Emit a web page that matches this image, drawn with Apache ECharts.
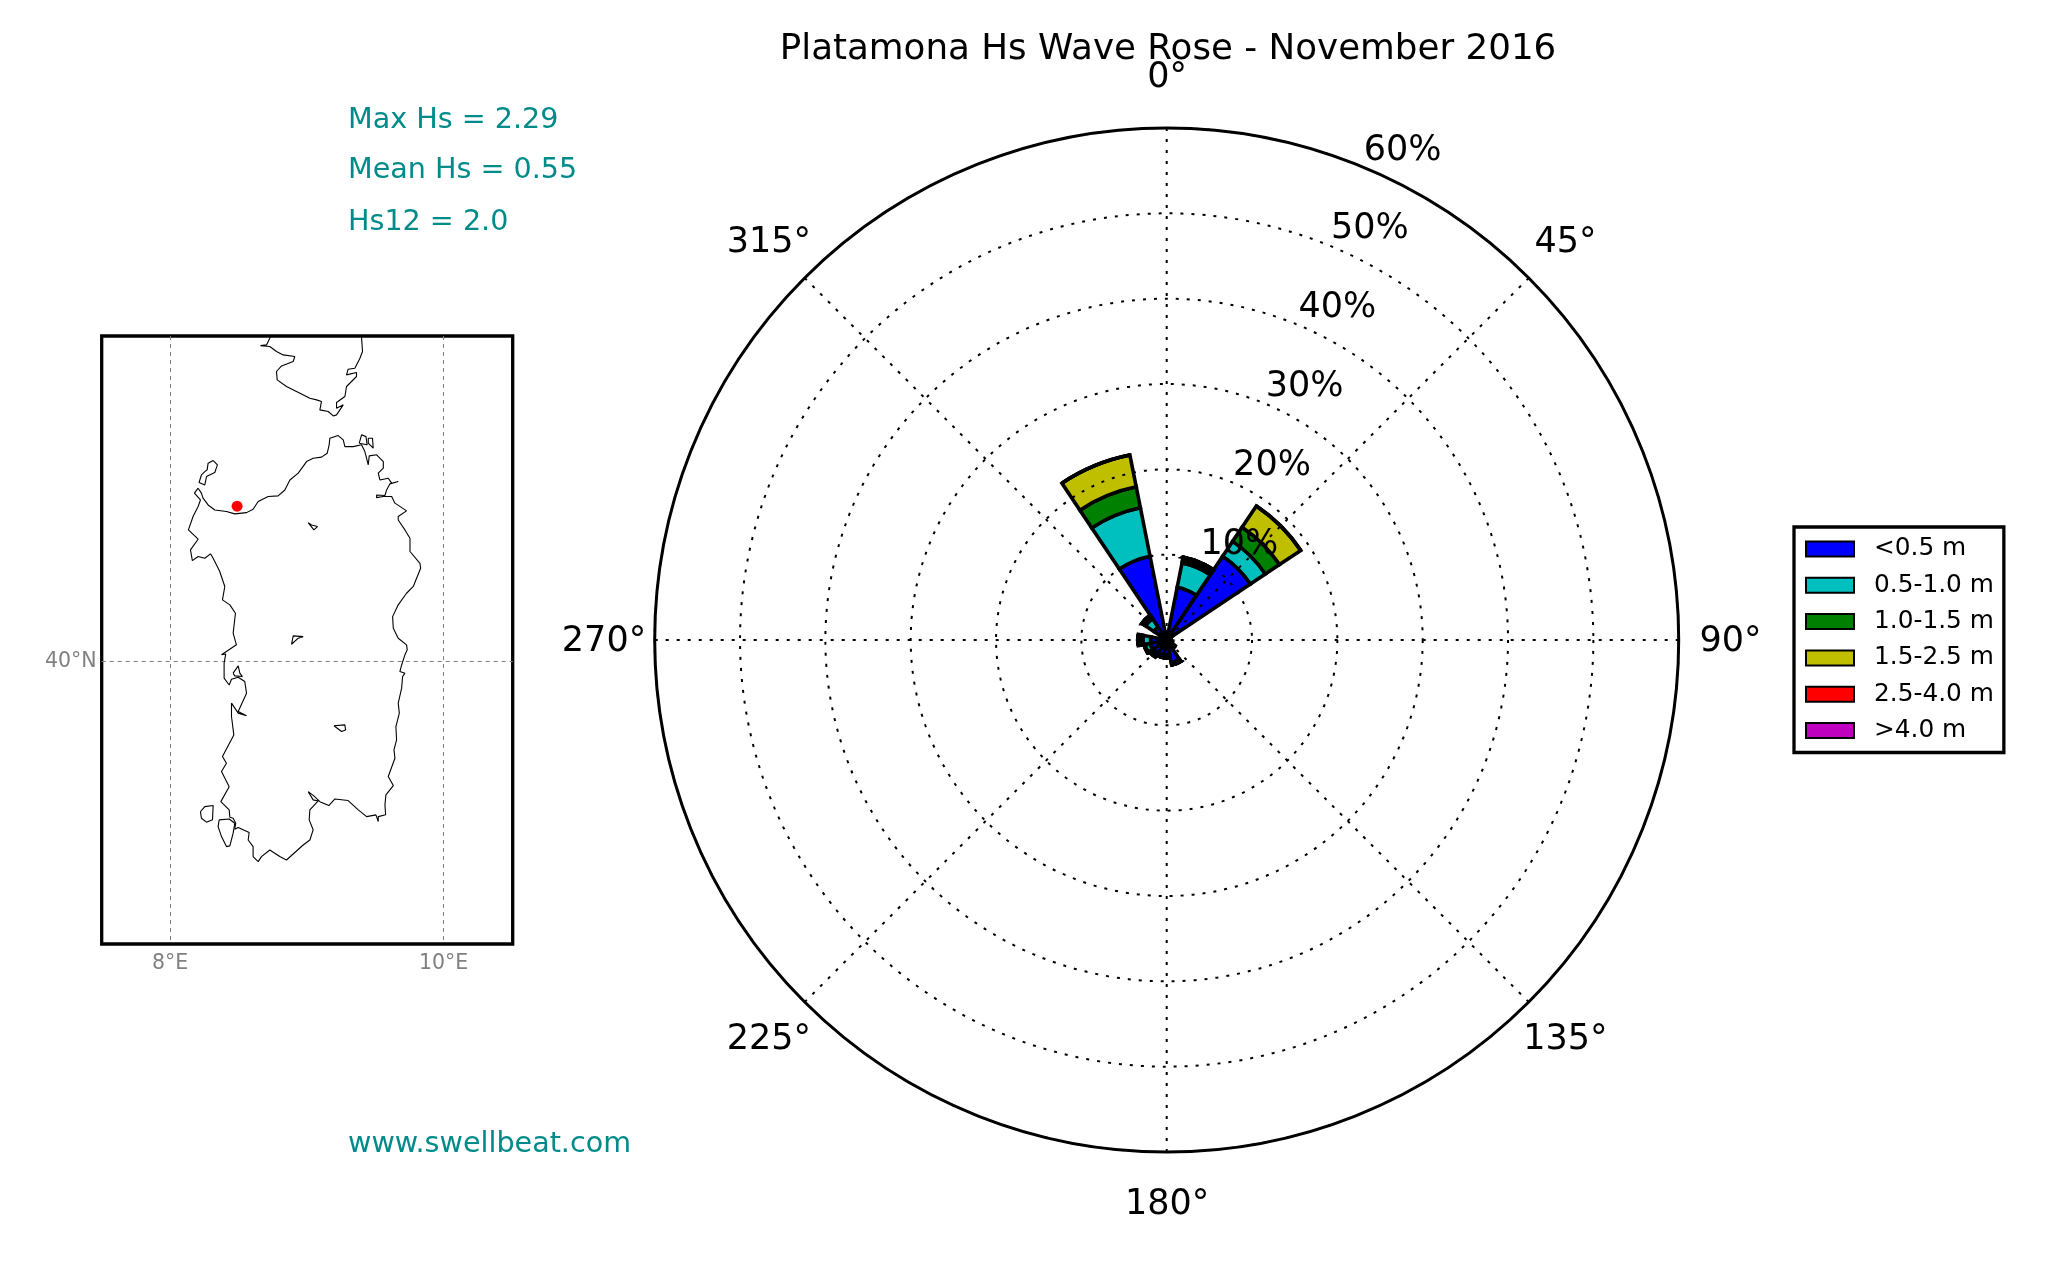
<!DOCTYPE html>
<html><head><meta charset="utf-8">
<style>html,body{margin:0;padding:0;background:#fff}#c{width:2048px;height:1280px}</style>
<script src="https://cdn.jsdelivr.net/npm/echarts@6/dist/echarts.min.js"></script>
</head><body><div id="c"></div>
<script>
const titleText = 'Platamona Hs Wave Rose - November 2016';
const infoLines = ['Max Hs = 2.29', 'Mean Hs = 0.55', 'Hs12 = 2.0'];
const siteText = 'www.swellbeat.com';

const directions = ['0','22.5','45','67.5','90','112.5','135','157.5','180','202.5','225','247.5','270','292.5','315','337.5'];
const binNames = ['<0.5 m','0.5-1.0 m','1.0-1.5 m','1.5-2.5 m','2.5-4.0 m','>4.0 m'];
const binColors = ['#0000ff','#00bfbf','#008000','#bfbf00','#ff0000','#bf00bf'];
const hsBelow05 = [0.7,6.3,11.8,0.5,0.4,0.7,1.0,2.7,1.7,1.8,1.9,2.0,1.9,0.6,1.8,10.0];
const hs05to10  = [0.2,2.9,2.1,0,0,0,0.2,0.3,0.4,0.3,0.4,0.6,0.9,0.2,1.2,5.8];
const hs10to15  = [0,0.35,2.0,0,0,0,0,0,0,0,0.1,0.1,0.3,0,0.3,2.5];
const hs15to25  = [0,0.35,3.0,0,0,0,0,0,0,0,0,0,0.3,0,0.2,3.8];
const hs25to40  = [0,0,0,0,0,0,0,0,0,0,0,0,0,0,0,0];
const hsAbove40 = [0,0,0,0,0,0,0,0,0,0,0,0,0,0,0,0];
const radialTicks = [10,20,30,40,50,60];
const radialLabelAngle = 22.5;
const angleTicks = [0,45,90,135,180,225,270,315];
const angleLabelRadius = 66;

const sitePoint = [8.49, 40.869];
const lonTicks = [8, 10];
const latTicks = [40];

const sardinia = [[8.205,40.970],[8.229,40.942],[8.241,40.914],[8.278,40.876],[8.327,40.848],[8.412,40.839],[8.473,40.826],[8.559,40.833],[8.607,40.852],[8.644,40.895],[8.717,40.923],[8.790,40.927],[8.839,40.960],[8.876,41.016],[8.937,41.054],[8.998,41.119],[9.046,41.138],[9.107,41.144],[9.149,41.166],[9.163,41.213],[9.168,41.250],[9.229,41.265],[9.266,41.241],[9.278,41.203],[9.339,41.203],[9.400,41.213],[9.424,41.175],[9.449,41.101],[9.456,41.151],[9.510,41.157],[9.559,41.119],[9.559,41.082],[9.522,41.054],[9.534,41.016],[9.595,41.026],[9.620,40.998],[9.668,41.007],[9.607,40.994],[9.583,40.960],[9.571,40.929],[9.510,40.932],[9.510,40.917],[9.559,40.923],[9.620,40.923],[9.644,40.886],[9.729,40.843],[9.668,40.811],[9.668,40.792],[9.717,40.736],[9.754,40.689],[9.754,40.615],[9.827,40.549],[9.832,40.521],[9.778,40.419],[9.729,40.381],[9.668,40.316],[9.627,40.250],[9.632,40.185],[9.668,40.129],[9.729,40.092],[9.734,40.064],[9.717,40.036],[9.693,39.979],[9.680,39.942],[9.717,39.933],[9.700,39.914],[9.693,39.849],[9.668,39.765],[9.676,39.709],[9.651,39.634],[9.656,39.559],[9.637,39.503],[9.644,39.456],[9.595,39.354],[9.632,39.303],[9.578,39.251],[9.571,39.195],[9.576,39.139],[9.522,39.129],[9.522,39.101],[9.505,39.139],[9.437,39.129],[9.376,39.167],[9.302,39.219],[9.205,39.228],[9.161,39.191],[9.095,39.213],[9.051,39.245],[9.010,39.269],[9.046,39.223],[9.083,39.217],[9.022,39.167],[9.017,39.111],[9.046,39.055],[9.022,38.998],[8.973,38.970],[8.851,38.886],[8.802,38.905],[8.729,38.942],[8.668,38.905],[8.644,38.877],[8.607,38.905],[8.607,38.961],[8.571,38.998],[8.578,39.040],[8.498,39.068],[8.473,39.058],[8.480,39.092],[8.461,39.120],[8.437,39.126],[8.432,39.167],[8.371,39.213],[8.432,39.297],[8.376,39.382],[8.412,39.428],[8.383,39.466],[8.466,39.587],[8.449,39.690],[8.449,39.765],[8.498,39.709],[8.559,39.694],[8.498,39.718],[8.559,39.821],[8.546,39.886],[8.498,39.910],[8.449,39.899],[8.432,39.867],[8.395,39.905],[8.395,39.989],[8.407,40.041],[8.376,40.036],[8.485,40.092],[8.461,40.157],[8.478,40.269],[8.437,40.316],[8.383,40.344],[8.400,40.419],[8.363,40.503],[8.315,40.577],[8.295,40.602],[8.254,40.577],[8.205,40.587],[8.163,40.564],[8.149,40.624],[8.205,40.684],[8.134,40.736],[8.168,40.811],[8.205,40.867],[8.222,40.904],[8.178,40.942],[8.205,40.970]];
const asinara = [[8.254,41.063],[8.229,41.044],[8.212,41.002],[8.254,40.988],[8.266,41.035],[8.327,41.058],[8.346,41.101],[8.315,41.125],[8.278,41.110],[8.271,41.073],[8.254,41.063]];
const maddalena = [[9.383,41.222],[9.400,41.269],[9.432,41.259],[9.441,41.213],[9.383,41.222]];
const caprera = [[9.449,41.250],[9.480,41.250],[9.485,41.194],[9.449,41.222],[9.449,41.250]];
const coghinas = [[9.010,40.777],[9.051,40.736],[9.078,40.755],[9.034,40.764],[9.010,40.777]];
const omodeo = [[8.888,40.095],[8.900,40.142],[8.973,40.138],[8.937,40.129],[8.888,40.095]];
const flumendosa = [[9.198,39.638],[9.278,39.643],[9.283,39.615],[9.254,39.606],[9.198,39.638]];
const cabras = [[8.461,39.933],[8.498,39.974],[8.510,39.933],[8.529,39.914],[8.473,39.918],[8.461,39.933]];
const sanPietro = [[8.222,39.157],[8.254,39.185],[8.315,39.191],[8.310,39.111],[8.266,39.098],[8.229,39.120],[8.222,39.157]];
const santAntioco = [[8.359,39.111],[8.432,39.116],[8.473,39.092],[8.461,39.036],[8.437,38.965],[8.412,38.961],[8.376,39.017],[8.351,39.073],[8.359,39.111]];
const corsica = [[8.735,41.823],[8.729,41.811],[8.705,41.773],[8.661,41.769],[8.729,41.764],[8.778,41.736],[8.827,41.717],[8.912,41.708],[8.900,41.680],[8.815,41.655],[8.778,41.624],[8.783,41.577],[8.851,41.540],[8.924,41.512],[9.022,41.474],[9.071,41.465],[9.107,41.456],[9.095,41.409],[9.156,41.400],[9.193,41.375],[9.217,41.381],[9.266,41.437],[9.217,41.418],[9.217,41.450],[9.278,41.484],[9.290,41.540],[9.363,41.596],[9.363,41.618],[9.290,41.605],[9.302,41.637],[9.351,41.642],[9.388,41.698],[9.407,41.736],[9.400,41.811],[9.400,41.823]];
const coastParts = [sardinia, asinara, maddalena, caprera, coghinas, omodeo, flumendosa, cabras, sanPietro, santAntioco, corsica];

const FONT = '"DejaVu Sans"';
const binValues = [hsBelow05, hs05to10, hs10to15, hs15to25, hs25to40, hsAbove40];
const dotted = {color:'#000', width:2, type:[3,8]};
const hiddenAxis = {axisLine:{show:false},axisTick:{show:false},axisLabel:{show:false},splitLine:{show:false}};
const polarLabel = {show:true,position:'inside',color:'#000',fontFamily:FONT,fontSize:35,textBorderWidth:0};

const option = {
  animation:false,
  backgroundColor:'#fff',
  textStyle:{fontFamily:FONT},
  title:{text:titleText,left:1163,top:27,textAlign:'center',textStyle:{fontFamily:FONT,fontSize:35.7,fontWeight:'normal',color:'#000'}},
  polar:[
    {center:[1166.7,640],radius:[0,512]},
    {center:[1166.7,640],radius:[0,512]}
  ],
  angleAxis:[
    Object.assign({polarIndex:0,type:'category',data:directions,startAngle:101.25,clockwise:true,boundaryGap:true},hiddenAxis),
    {polarIndex:1,type:'value',min:0,max:360,interval:45,startAngle:90,clockwise:true,z:5,
      axisLine:{show:true,lineStyle:{color:'#000',width:3}},axisTick:{show:false},axisLabel:{show:false},
      splitLine:{show:true,lineStyle:dotted}}
  ],
  radiusAxis:[
    Object.assign({polarIndex:0,type:'value',min:0,max:60},hiddenAxis),
    {polarIndex:1,type:'value',min:0,max:60,interval:10,z:5,axisLine:{show:false},axisTick:{show:false},axisLabel:{show:false},
      splitLine:{show:true,lineStyle:dotted}}
  ],
  grid:{left:101.7,top:336,width:411,height:608,show:true,borderColor:'#000',borderWidth:3.3,backgroundColor:'#fff'},
  xAxis:{type:'value',min:7.5,max:10.505,axisLine:{show:false},axisTick:{show:false,customValues:lonTicks},
    axisLabel:{customValues:lonTicks,margin:9,color:'#808080',fontFamily:FONT,fontSize:20.5,formatter:v=>v+'°E'},
    splitLine:{show:true,lineStyle:{color:'#808080',width:1,type:[4,4]}}},
  yAxis:{type:'value',min:38.415,max:41.823,axisLine:{show:false},axisTick:{show:false,customValues:latTicks},
    axisLabel:{customValues:latTicks,margin:5,color:'#808080',fontFamily:FONT,fontSize:20.5,formatter:v=>v+'°N'},
    splitLine:{show:true,lineStyle:{color:'#808080',width:1,type:[4,4]}}},
  legend:{orient:'vertical',left:1794,top:527,padding:[9.5,10,9.5,11],data:binNames,icon:'rect',itemWidth:48,itemHeight:15,itemGap:11.3,
    backgroundColor:'#fff',borderColor:'#000',borderWidth:3.3,
    textStyle:{fontFamily:FONT,fontSize:24.8,color:'#000',padding:[0,0,0,15]}},
  graphic:[
    ...infoLines.map((t,i)=>({type:'text',x:348,y:[120.5,170.5,222.5][i],style:{text:t,fill:'#008b8b',font:'28.6px '+FONT,textAlign:'left',textVerticalAlign:'middle'}})),
    {type:'text',x:348,y:1144.5,style:{text:siteText,fill:'#008b8b',font:'28.6px '+FONT,textAlign:'left',textVerticalAlign:'middle'}}
  ],
  series:[
    ...binNames.map((n,i)=>({name:n,type:'bar',coordinateSystem:'polar',polarIndex:0,stack:'hs',barWidth:'100%',z:2,
      data:binValues[i],itemStyle:{color:binColors[i],borderColor:'#000',borderWidth:3.6}})),
    {type:'scatter',coordinateSystem:'polar',polarIndex:1,symbolSize:0,z:6,silent:true,clip:false,
      itemStyle:{color:'#000',opacity:1},
      data:radialTicks.map(r=>[r,radialLabelAngle]),
      label:Object.assign({},polarLabel,{offset:[40,-16.5],formatter:p=>p.value[0]+'%'})},
    {type:'scatter',coordinateSystem:'polar',polarIndex:1,symbolSize:0,z:6,silent:true,clip:false,
      itemStyle:{color:'#000',opacity:1},
      data:angleTicks.map(a=>[angleLabelRadius,a]),
      label:Object.assign({},polarLabel,{offset:[0.5,1.5],formatter:p=>p.value[1]+'°'})},
    ...coastParts.map(part=>({type:'line',xAxisIndex:0,yAxisIndex:0,data:part,showSymbol:false,symbol:'none',silent:true,z:3,
      lineStyle:{color:'#000',width:1.1}})),
    {type:'scatter',xAxisIndex:0,yAxisIndex:0,data:[sitePoint],symbolSize:11,itemStyle:{color:'#ff0000',opacity:1},z:4,silent:true}
  ]
};
const chart = echarts.init(document.getElementById('c'),null,{renderer:'canvas'});
chart.setOption(option);
</script></body></html>
